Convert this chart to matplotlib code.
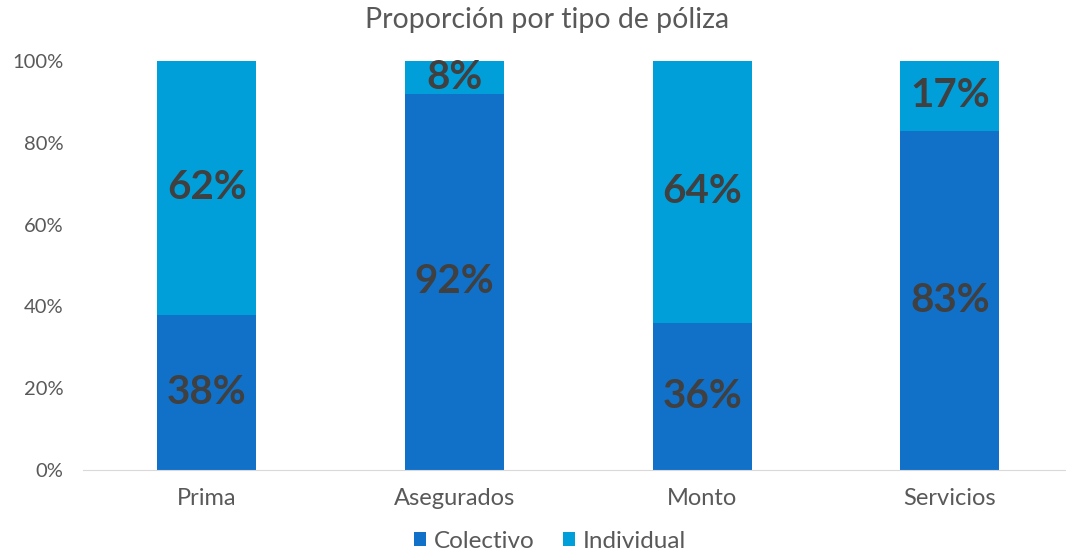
import matplotlib.pyplot as plt
import numpy as np

# data
categorias = ["Prima", "Asegurados", "Monto", "Servicios"]
colectivo = [38, 92, 36, 83]
individual = [62, 8, 64, 17]

col_colectivo = "#1170C8"
col_individual = "#009FDA"
gris = "#404040"

plt.rcParams['font.family'] = ['Lato', 'DejaVu Sans']

fig = plt.figure(figsize=(10.66, 5.53), dpi=100)
ax = fig.add_axes([83/1066, 83/553, 983/1066, 409/553])

x = np.arange(len(categorias))
c = np.array(colectivo) / 100
i = np.array(individual) / 100
ax.bar(x, c, width=0.4, color=col_colectivo, label="Colectivo")
ax.bar(x, i, width=0.4, bottom=c, color=col_individual, label="Individual")

# data labels in the middle of each segment
for xi, a, b in zip(x, c, i):
    ax.text(xi, a / 2, f"{round(a*100)}%", ha="center", va="center",
            fontsize=29, fontweight="bold", color=gris)
    ax.text(xi, a + b / 2, f"{round(b*100)}%", ha="center", va="center",
            fontsize=29, fontweight="bold", color=gris)

ax.set_xlim(-0.5, -0.5 + 983/247.7)
ax.set_ylim(0, 1)
ax.set_yticks(np.arange(0, 1.01, 0.2))
ax.set_yticklabels([f"{int(v*100)}%" for v in np.arange(0, 1.01, 0.2)])
ax.set_xticks(x)
ax.set_xticklabels(categorias)
ax.tick_params(axis="both", length=0, colors="#595959")
ax.tick_params(axis="x", pad=13, labelsize=17)
ax.tick_params(axis="y", pad=14, labelsize=14.5)
for s in ["top", "right", "left"]:
    ax.spines[s].set_visible(False)
ax.spines["bottom"].set_color("#D9D9D9")

fig.suptitle("Proporción por tipo de póliza", x=547/1066, y=1 - 20/553,
             va="center", fontsize=20.5, color="#595959")

fig.legend(loc="center", bbox_to_anchor=(550/1066, 1 - 541/553), ncol=2,
           frameon=False, fontsize=17.5, handlelength=0.5, handleheight=0.5,
           handletextpad=0.3, columnspacing=1.2, labelcolor="#595959")

plt.savefig("out.png", dpi=100)
